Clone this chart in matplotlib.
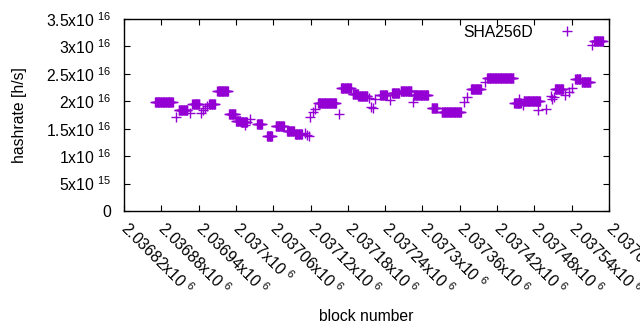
import numpy as np
import matplotlib
matplotlib.use("Agg")
import matplotlib.pyplot as plt
from matplotlib.ticker import FuncFormatter, MultipleLocator

plt.rcParams['font.family'] = ['Liberation Sans', 'DejaVu Sans']
plt.rcParams['mathtext.fontset'] = 'custom'
plt.rcParams['mathtext.rm'] = 'Liberation Sans'
plt.rcParams['mathtext.it'] = 'Liberation Sans:italic'
plt.rcParams['font.size'] = 11.3

# runs of consecutive blocks with the same hashrate estimate (x1e16 h/s)
run_start = [2036870, 2036908, 2036930, 2036957, 2036970, 2036989, 2037000, 2037008,
             2037034, 2037050, 2037064, 2037082, 2037095, 2037132, 2037169, 2037188,
             2037197, 2037232, 2037251, 2037265, 2037286, 2037315, 2037331, 2037378,
             2037404, 2037448, 2037463, 2037513, 2037546, 2037556, 2037576]
run_end = [2036898, 2036922, 2036941, 2036966, 2036987, 2036999, 2037007, 2037018,
           2037042, 2037058, 2037077, 2037093, 2037106, 2037161, 2037185, 2037196,
           2037211, 2037243, 2037262, 2037282, 2037309, 2037323, 2037362, 2037394,
           2037446, 2037458, 2037489, 2037526, 2037554, 2037570, 2037590]
run_rate = [1.98, 1.84, 1.945, 1.945, 2.18, 1.77, 1.635, 1.62,
            1.585, 1.37, 1.545, 1.455, 1.40, 1.96, 2.24, 2.125,
            2.09, 2.115, 2.145, 2.19, 2.115, 1.87, 1.81, 2.22,
            2.42, 1.96, 2.00, 2.22, 2.41, 2.36, 3.10]

# isolated blocks
single_block = [2036904, 2036926, 2036944, 2036947, 2036950, 2036953, 2037015, 2037023,
                2037111, 2037114, 2037117, 2037119, 2037124, 2037127, 2037165, 2037214,
                2037217, 2037220, 2037224, 2037247, 2037284, 2037367, 2037372, 2037401,
                2037456, 2037462, 2037486, 2037499, 2037506, 2037509, 2037512, 2037529,
                2037535, 2037540, 2037572]
single_rate = [1.71, 1.79, 1.79, 1.84, 1.88, 1.91, 1.56, 1.67,
               1.43, 1.39, 1.36, 1.72, 1.80, 1.86, 1.77, 2.06,
               1.90, 1.88, 2.05, 2.02, 1.99, 1.99, 2.07, 2.36,
               2.05, 1.93, 1.84, 1.86, 2.10, 2.04, 2.07, 2.115,
               2.175, 2.25, 3.03]

blocks = []
rates = []
for s, e, r in zip(run_start, run_end, run_rate):
    for b in range(s, e + 1):
        blocks.append(b)
        rates.append(r * 1e16)
for b, r in zip(single_block, single_rate):
    blocks.append(b)
    rates.append(r * 1e16)
blocks = np.array(blocks)
rates = np.array(rates)
order = np.argsort(blocks)
blocks = blocks[order]
rates = rates[order]


def sci(v, pos):
    if v == 0:
        return "0"
    e = int(np.floor(np.log10(abs(v)) + 1e-9))
    m = v / 10 ** e
    return "%gx10 $^{%d}$" % (round(m, 6), e)


fig = plt.figure(figsize=(6.4, 3.3), dpi=100)
ax = fig.add_axes([124 / 640, 1 - 211 / 330, 485 / 640, 192 / 330])

ax.plot(blocks, rates, '+', color='#9400d3', markersize=6.8, markeredgewidth=1.0,
        label='SHA256D')

ax.set_xlim(2036820, 2037600)
ax.set_ylim(0, 3.5e16)
ax.xaxis.set_major_locator(MultipleLocator(60))
ax.yaxis.set_major_locator(MultipleLocator(5e15))
ax.xaxis.set_major_formatter(FuncFormatter(sci))
ax.yaxis.set_major_formatter(FuncFormatter(sci))
ax.tick_params(direction='in', length=4.5, width=0.8, top=True, right=True,
               labelsize=11.3)
ax.tick_params(axis='y', pad=9)
for lab in ax.get_xticklabels():
    lab.set_rotation(-45)
    lab.set_rotation_mode('anchor')
    lab.set_ha('left')
    lab.set_va('center')
ax.tick_params(axis='x', pad=10)
for sp in ax.spines.values():
    sp.set_linewidth(1.0)

ax.set_xlabel('block number', labelpad=7.5)
ax.set_ylabel('hashrate [h/s]', labelpad=13.5)

ax.legend(loc='upper right', bbox_to_anchor=(0.962, 0.97), markerfirst=False,
          frameon=False, numpoints=1, handlelength=3.0, handletextpad=0.7,
          borderpad=0, borderaxespad=0, fontsize=11.3)

fig.savefig('out.png', dpi=100)
